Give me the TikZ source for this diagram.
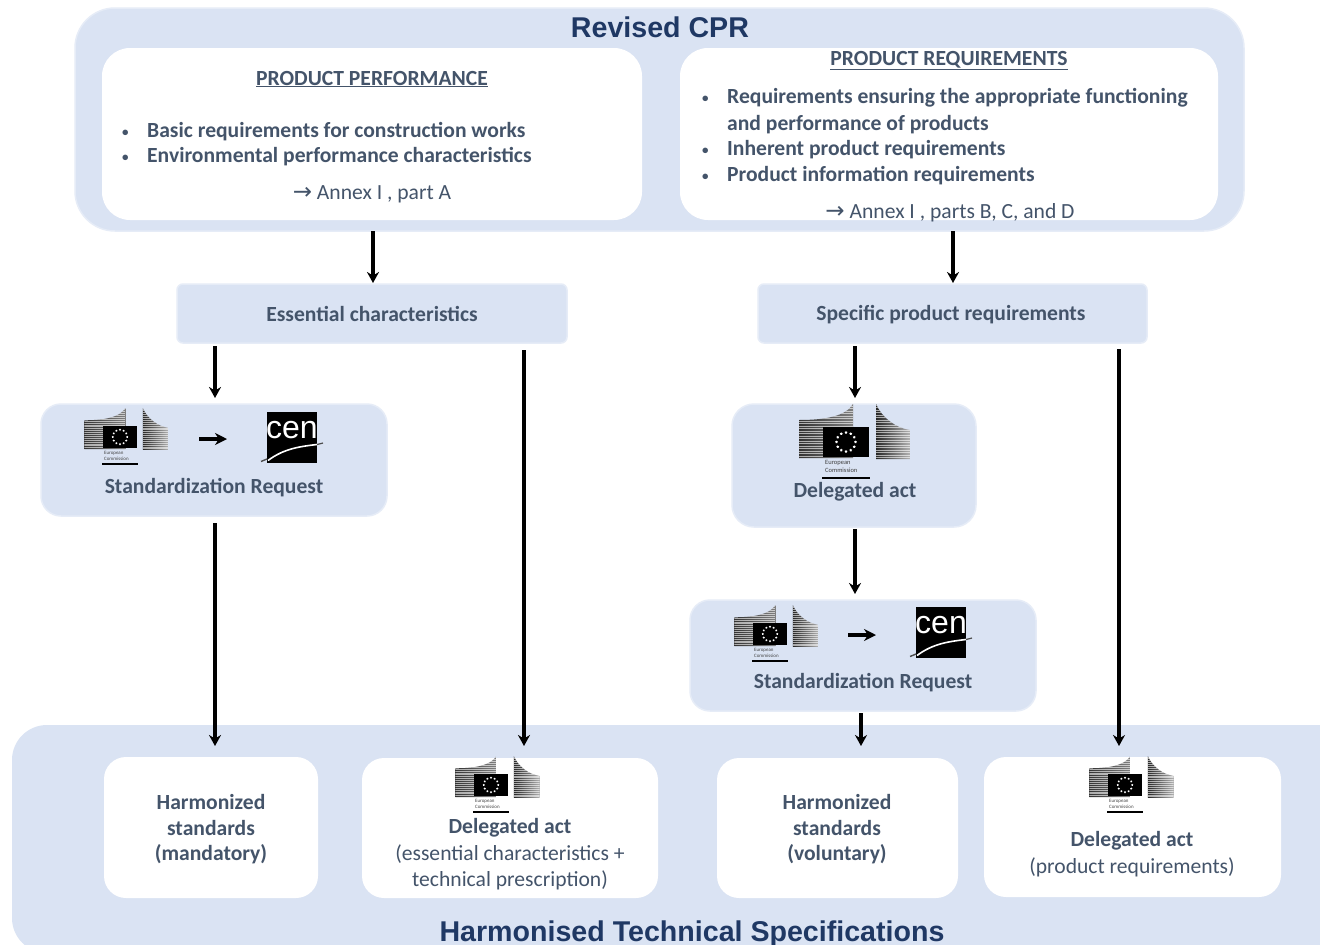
\documentclass[tikz,border=0pt]{standalone}
\usepackage{fontspec}
\setmainfont{Carlito}
\newfontfamily\headfont{Liberation Sans}
\newfontfamily\symfont{DejaVu Sans}
\usetikzlibrary{arrows.meta,calc,shapes.geometric}
\definecolor{panel}{HTML}{DAE3F3}
\definecolor{edgeblue}{HTML}{E6ECF7}
\definecolor{txt}{HTML}{44546A}
\definecolor{head}{HTML}{1F3864}
\newcommand{\annexarrow}{{\symfont\fontsize{23}{20}\selectfont →}}
\tikzset{
  x=1pt,y=-1pt,
  box/.style={inner sep=0pt,outer sep=0pt,anchor=north west},
  panelbox/.style={box,fill=panel,draw=edgeblue,line width=1.5pt},
  whitebox/.style={box,fill=white},
  arr/.style={draw=black,line width=3.4pt,-{Stealth[length=11pt,width=12pt]}},
  smallarr/.style={draw=black,line width=3.4pt,-{Stealth[length=12pt,width=12pt]}},
  title/.style={font=\headfont\bfseries\fontsize{28.6}{30}\selectfont,text=head,inner sep=0pt},
  bt/.style={font=\bfseries\fontsize{21.6}{26}\selectfont,text=txt,inner sep=0pt,anchor=base west},
  bullet/.style={font=\bfseries\fontsize{13}{26}\selectfont,text=txt,inner sep=0pt,anchor=base west},
  ct/.style={font=\bfseries\fontsize{21.6}{25.5}\selectfont,text=txt,inner sep=0pt,align=center},
  rt/.style={font=\fontsize{21.6}{26}\selectfont,text=txt,inner sep=0pt,align=center},
  eclogo/.pic={
    \begin{scope}
      \clip (-47,-22) .. controls (-20,-22) and (0,-26) .. (7,-38) -- (7,16) -- (-47,16) -- cycle;
      \shade[left color=black!80,right color=black!50] (-47,-38) rectangle (7,16);
      \foreach \yy in {-36,-33.5,...,16} \draw[white,opacity=.6,line width=.6pt] (-47,\yy) -- (7,\yy);
    \end{scope}
    \begin{scope}
      \clip (30,-38) .. controls (36,-24) and (50,-14) .. (64,-12) -- (64,17) -- (30,17) -- cycle;
      \shade[left color=black!85,right color=black!30] (30,-38) rectangle (64,17);
      \foreach \yy in {-37,-34.5,...,17} \draw[white,opacity=.6,line width=.6pt] (30,\yy) -- (64,\yy);
    \end{scope}
    \fill[black] (-23,-15) rectangle (23,15);
    \foreach \ang in {0,30,...,330} \node[star,star points=5,fill=white,inner sep=0pt,minimum size=3pt] at ($(0,0)+(\ang:9.5pt)$) {};
    \node[transform shape,font=\fontsize{6.5}{7.5}\selectfont,text=black!75,align=left,inner sep=0pt,anchor=north west] at (-21,18.5) {European\\Commission};
    \fill[black] (-24,34.5) rectangle (24,36.5);
  },
  cenlogo/.pic={
    \fill[black] (-25,-25.5) rectangle (25,25.5);
    \node[transform shape,font=\headfont\fontsize{32}{32}\selectfont,text=white,inner sep=0pt] at (0,-7) {cen};
    \draw[white,line width=1.6pt] (-24,23) .. controls (-8,11) and (8,9) .. (25,7);
    \draw[black!70,line width=1.4pt] (-31,24) -- (-25,21.5);
    \draw[black!70,line width=1.2pt] (25,7) -- (31,5.5);
  },
}
\begin{document}
\begin{tikzpicture}
\useasboundingbox (0,0) rectangle (1320,945);
\clip (0,0) rectangle (1320,945);
\fill[white] (0,0) rectangle (1320,945);

% top panel
\node[panelbox,rounded corners=40pt,minimum width=1169pt,minimum height=223pt] (cpr) at (75,8) {};
\node[title] (cprt) at (660,27) {Revised CPR};
\node[whitebox,rounded corners=28pt,minimum width=540pt,minimum height=172pt] (perf) at (102,48) {};
\node[whitebox,rounded corners=28pt,minimum width=538pt,minimum height=172pt] (req) at (680,48) {};

\node[ct] (perfh) at (372,79) {\underline{PRODUCT PERFORMANCE}};
\node[bullet] (pb1) at (122,136) {•};
\node[bt] (p1) at (147,137) {Basic requirements for construction works};
\node[bullet] (pb2) at (122,161) {•};
\node[bt] (p2) at (147,162) {Environmental performance characteristics};
\node[rt] (pa) at (372,194) {\annexarrow{} Annex I , part A};

\node[ct] (reqh) at (949,60.5) {\underline{PRODUCT REQUIREMENTS}};
\node[bullet] (rb1) at (702,102) {•};
\node[bt] (r1) at (727,103) {Requirements ensuring the appropriate functioning};
\node[bt] (r1b) at (727,130) {and performance of products};
\node[bullet] (rb2) at (702,154) {•};
\node[bt] (r2) at (727,155) {Inherent product requirements};
\node[bullet] (rb3) at (702,180) {•};
\node[bt] (r3) at (727,181) {Product information requirements};
\node[rt] (ra) at (950,213) {\annexarrow{} Annex I , parts B, C, and D};

% middle boxes
\node[panelbox,rounded corners=6pt,minimum width=390pt,minimum height=59pt] (ess) at (177,284) {};
\node[ct] (esst) at (372,314) {Essential characteristics};
\node[panelbox,rounded corners=6pt,minimum width=389pt,minimum height=59pt] (spec) at (758,284) {};
\node[ct] (spect) at (951,315) {Specific product requirements};

\node[panelbox,rounded corners=20pt,minimum width=346pt,minimum height=112pt] (sra) at (41,404) {};
\pic[scale=.76,transform shape] at (120,437) {eclogo};
\pic at (292,437.5) {cenlogo};
\coordinate (sraL) at (199,439);
\coordinate (sraR) at (227,439);
\draw[smallarr] (sraL) -- (sraR);
\node[ct] (srat) at (214,488) {Standardization Request};

\node[panelbox,rounded corners=22pt,minimum width=244pt,minimum height=123pt] (dela) at (732,404) {};
\pic at (846,442) {eclogo};
\node[ct] (delat) at (855,492) {Delegated act};

\node[panelbox,rounded corners=20pt,minimum width=346pt,minimum height=111pt] (srb) at (690,600) {};
\pic[scale=.76,transform shape] at (770,634) {eclogo};
\pic at (941,632.5) {cenlogo};
\coordinate (srbL) at (848,635);
\coordinate (srbR) at (876,635);
\draw[smallarr] (srbL) -- (srbR);
\node[ct] (srbt) at (863,683) {Standardization Request};

% bottom panel
\node[box,fill=panel,rounded corners=35pt,minimum width=1340pt,minimum height=228pt] (hts) at (12,725) {};
\node[title] (htst) at (692,934) {Harmonised Technical Specifications};

\node[whitebox,rounded corners=22pt,minimum width=214pt,minimum height=141pt] (hsm) at (104,757) {};
\node[ct] (hsmt) at (211,829.5) {Harmonized\\standards\\(mandatory)};
\node[whitebox,rounded corners=22pt,minimum width=296pt,minimum height=140pt] (dac) at (362,758) {};
\pic[scale=.76,transform shape] at (491,785) {eclogo};
\node[ct] (dact) at (510,828) {Delegated act};
\node[rt] (dacs) at (510,867.5) {(essential characteristics +\\technical prescription)};
\node[whitebox,rounded corners=22pt,minimum width=241pt,minimum height=140pt] (hsv) at (717,758) {};
\node[ct] (hsvt) at (837,829.5) {Harmonized\\standards\\(voluntary)};
\node[whitebox,rounded corners=22pt,minimum width=297pt,minimum height=140pt] (dap) at (984,757) {};
\pic[scale=.76,transform shape] at (1125,785) {eclogo};
\node[ct] (dapt) at (1132,841) {Delegated act};
\node[rt] (daps) at (1132,867) {(product requirements)};

% free ends of the connectors
\coordinate (e1) at (373,283);
\coordinate (e2) at (953,283);
\coordinate (e3) at (215,398);
\coordinate (e4) at (855,398);
\coordinate (e5) at (215,746);
\coordinate (e6) at (524,746);
\coordinate (e7) at (855,594);
\coordinate (e8) at (861,746);
\coordinate (e9) at (1119,746);

\draw[arr] (cpr.south -| e1) -- (e1);
\draw[arr] (cpr.south -| e2) -- (e2);
\draw[arr] ($(ess.south -| e3)+(0,3)$) -- (e3);
\draw[arr] ($(ess.south -| e6)+(0,7)$) -- (e6);
\draw[arr] ($(spec.south -| e4)+(0,3)$) -- (e4);
\draw[arr] ($(spec.south -| e9)+(0,6)$) -- (e9);
\draw[arr] ($(sra.south -| e5)+(0,7)$) -- (e5);
\draw[arr] ($(dela.south -| e7)+(0,2)$) -- (e7);
\draw[arr] ($(srb.south -| e8)+(0,2)$) -- (e8);
\end{tikzpicture}
\end{document}
